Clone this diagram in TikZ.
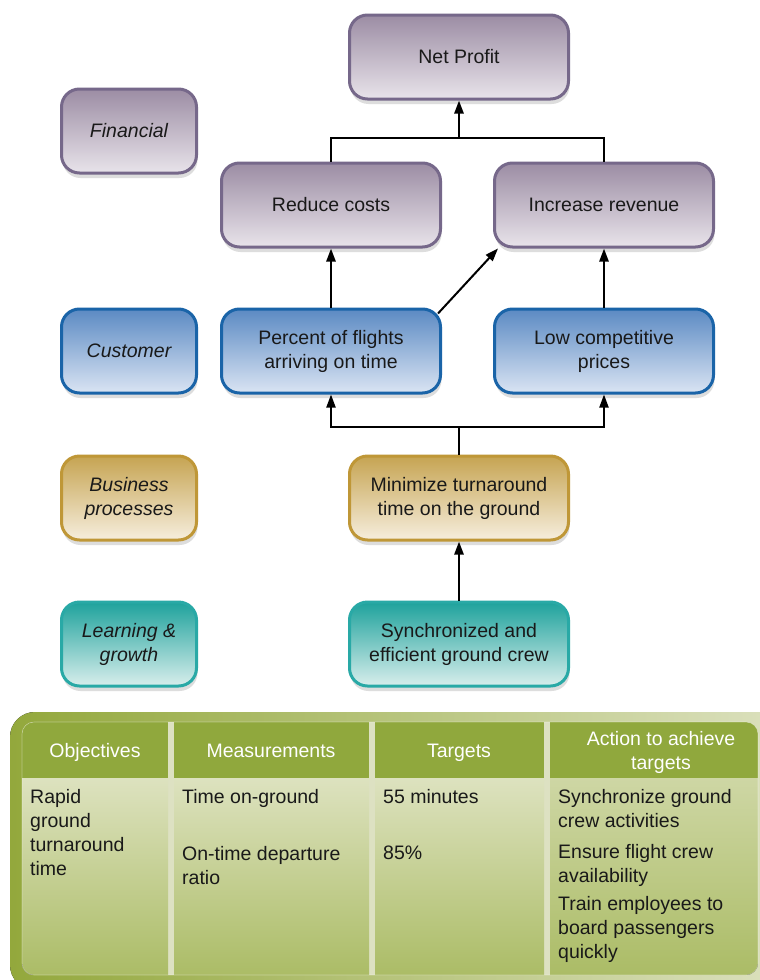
\documentclass[tikz,border=0pt]{standalone}
\usepackage{fontspec}
\setmainfont{Liberation Sans}
\usetikzlibrary{arrows.meta,shadows,calc}
\definecolor{finT}{HTML}{9C8DA4}
\definecolor{finB}{HTML}{E8E3EA}
\definecolor{finD}{HTML}{76688A}
\definecolor{cusT}{HTML}{5B8AC3}
\definecolor{cusB}{HTML}{DAE4F3}
\definecolor{cusD}{HTML}{1A64A8}
\definecolor{busT}{HTML}{C6A452}
\definecolor{busB}{HTML}{F6EEDD}
\definecolor{busD}{HTML}{BF9737}
\definecolor{lrnT}{HTML}{1EA29C}
\definecolor{lrnB}{HTML}{D8EEEC}
\definecolor{lrnD}{HTML}{29A9A6}
\definecolor{frameL}{HTML}{93A83C}
\definecolor{frameR}{HTML}{DCE1BF}
\definecolor{hdr}{HTML}{90A83D}
\definecolor{bodyT}{HTML}{DDE2BF}
\definecolor{bodyB}{HTML}{ABBC66}
\definecolor{sep}{HTML}{DDE1C2}
\begin{document}
\begin{tikzpicture}[x=1pt,y=-1pt,
  box/.style={rounded corners=18pt, line width=3pt, minimum height=84pt,
    align=center, font=\fontsize{19.5}{24}\selectfont, text=black!90,
    drop shadow={shadow xshift=1pt, shadow yshift=-5pt, opacity=0.22, fill=black!60}},
  wide/.style={box, minimum width=219pt},
  narrow/.style={box, minimum width=135pt, font=\fontsize{19.5}{24}\selectfont\itshape},
  fin/.style={top color=finT, bottom color=finB, draw=finD},
  cus/.style={top color=cusT, bottom color=cusB, draw=cusD},
  bus/.style={top color=busT, bottom color=busB, draw=busD},
  lrn/.style={top color=lrnT, bottom color=lrnB, draw=lrnD},
  arr/.style={-{Triangle[length=13pt,width=9pt]}, line width=2.5pt},
  ln/.style={line width=2pt},
  hd/.style={text=white, align=center, anchor=base, inner sep=0pt, font=\fontsize{19.5}{24}\selectfont},
  bd/.style={anchor=north west, inner sep=0pt, align=left, text=black!90, font=\fontsize{19.5}{24}\selectfont}
]
\useasboundingbox (0,0) rectangle (760,980);
\fill[white] (0,0) rectangle (760,980);

% perspective labels
\node[narrow, fin] (lfin) at (129,131) {Financial};
\node[narrow, cus] (lcus) at (129,351) {Customer};
\node[narrow, bus] (lbus) at (129,498) {Business\\processes};
\node[narrow, lrn] (llrn) at (129,644) {Learning \&\\growth};

% objectives
\node[wide, fin] (np) at (459,57) {Net Profit};
\node[wide, fin] (rc) at (331,205) {Reduce costs};
\node[wide, fin] (ir) at (604,205) {Increase revenue};
\node[wide, cus] (pct) at (331,351) {Percent of flights\\arriving on time};
\node[wide, cus] (lcp) at (604,351) {Low competitive\\prices};
\node[wide, bus] (mt) at (459,498) {Minimize turnaround\\time on the ground};
\node[wide, lrn] (sg) at (459,644) {Synchronized and\\efficient ground crew};

% connectors
\coordinate (j1) at (459,138);
\coordinate (j2) at (459,427);
\draw[ln] (rc.north) |- (j1);
\draw[ln] (ir.north) |- (j1);
\draw[arr] (j1) -- (np.south);
\draw[arr] (pct.north) -- (rc.south);
\draw[arr] (lcp.north) -- (ir.south);
\draw[arr, line width=2pt] ($(pct.north east)+(-4,6)$) -- ($(ir.south west)+(5,0)$);
\draw[ln] (mt.north) -- (j2);
\draw[arr, line width=2pt] (j2) -| (pct.south);
\draw[arr, line width=2pt] (j2) -| (lcp.south);
\draw[arr] (sg.north) -- (mt.south);

% table frame
\fill[black, opacity=0.08, rounded corners=25pt] (12,716) rectangle (790,990);
\fill[left color=frameL, right color=frameR, rounded corners=25pt] (10,712) rectangle (790,990);
\begin{scope}
  \clip[rounded corners=12pt] (22,722) rectangle (758,975);
  \fill[sep] (22,722) rectangle (758,975);
  \fill[hdr] (22,722) rectangle (168,778);
  \fill[hdr] (174,722) rectangle (369,778);
  \fill[hdr] (375,722) rectangle (544,778);
  \fill[hdr] (550,722) rectangle (758,778);
  \fill[top color=bodyT, bottom color=bodyB] (22,778) rectangle (168,975);
  \fill[top color=bodyT, bottom color=bodyB] (174,778) rectangle (369,975);
  \fill[top color=bodyT, bottom color=bodyB] (375,778) rectangle (544,975);
  \fill[top color=bodyT!70!bodyB, bottom color=bodyB] (550,778) rectangle (758,975);
\end{scope}
\draw[white, opacity=0.35, line width=0.6pt, rounded corners=12pt] (22,722) rectangle (758,975);

% header text
\node[hd] (h1) at (95,757) {Objectives};
\node[hd] (h2) at (271,757) {Measurements};
\node[hd] (h3) at (459,757) {Targets};
\node[hd, anchor=north] (h4) at (661,731) {Action to achieve\\targets};

% body text
\node[bd] (t1) at (30,789) {Rapid\\ground\\turnaround\\time};
\node[bd] (t2) at (182,789) {Time on-ground};
\node[bd] (t3) at (182,846) {On-time departure\\ratio};
\node[bd] (t4) at (383,789) {55 minutes};
\node[bd] (t5) at (383,846) {85\%};
\node[bd] (t6) at (558,789) {Synchronize ground\\crew activities};
\node[bd] (t7) at (558,844) {Ensure flight crew\\availability};
\node[bd] (t8) at (558,896) {Train employees to\\board passengers\\quickly};
\end{tikzpicture}
\end{document}
